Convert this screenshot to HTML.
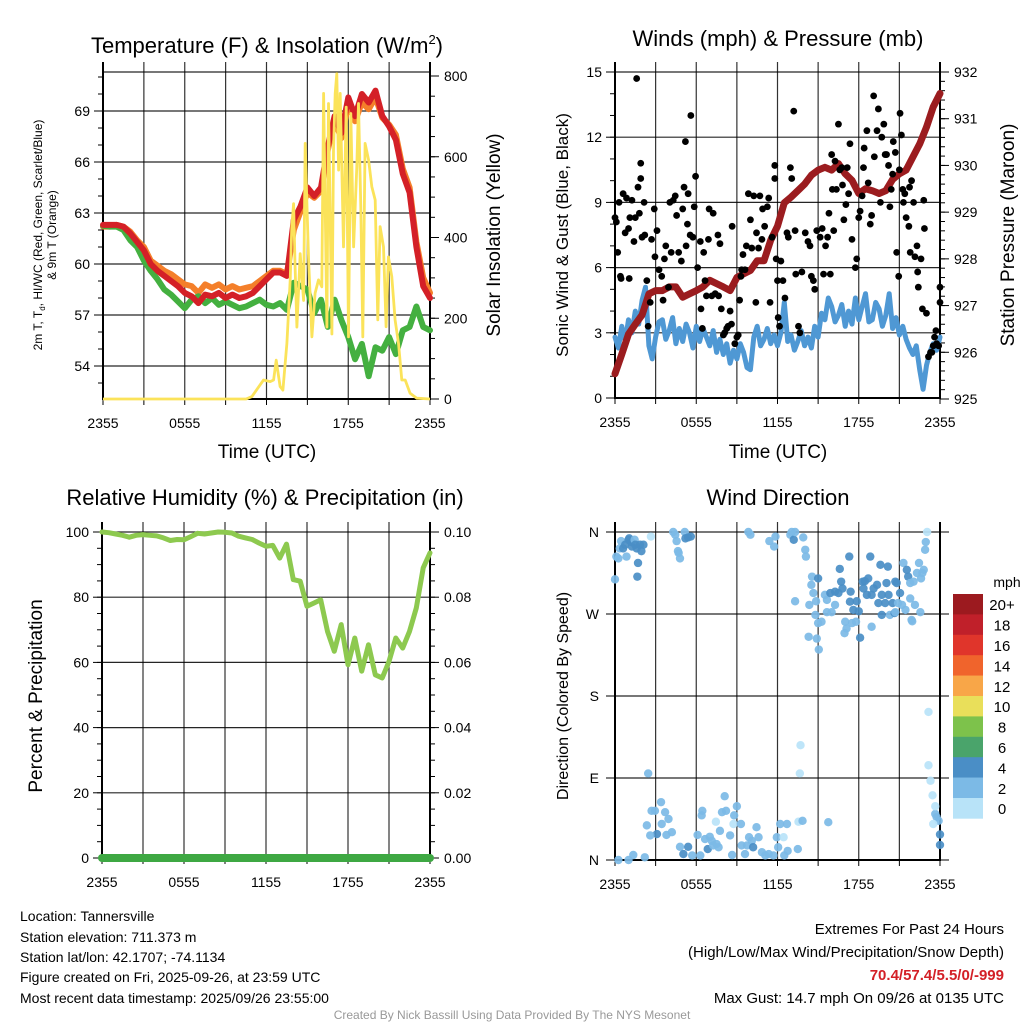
<!DOCTYPE html>
<html><head><meta charset="utf-8"><style>
html,body{margin:0;padding:0;background:#fff;}
svg{display:block;font-family:"Liberation Sans",Arial,sans-serif;}
</style></head><body>
<svg id="chart" width="1024" height="1024" viewBox="0 0 1024 1024" xmlns="http://www.w3.org/2000/svg">
<rect width="1024" height="1024" fill="#fff"/>
<g id="layer"></g>
<text x="267" y="53" font-size="22" text-anchor="middle">Temperature (F) &amp; Insolation (W/m<tspan font-size="13" dy="-9">2</tspan><tspan dy="9">)</tspan></text>
<text x="778" y="46" font-size="22" text-anchor="middle">Winds (mph) &amp; Pressure (mb)</text>
<text x="265" y="505" font-size="22" text-anchor="middle">Relative Humidity (%) &amp; Precipitation (in)</text>
<text x="778" y="505" font-size="22" text-anchor="middle">Wind Direction</text>
<text x="267" y="458" font-size="19" text-anchor="middle">Time (UTC)</text>
<text x="778" y="458" font-size="19" text-anchor="middle">Time (UTC)</text>
<text transform="translate(42,235) rotate(-90)" font-size="12" text-anchor="middle">2m T, T<tspan font-size="8" dy="3">d</tspan><tspan dy="-3">, HI/WC (Red, Green, Scarlet/Blue)</tspan></text>
<text transform="translate(56,235) rotate(-90)" font-size="12" text-anchor="middle">&amp; 9m T (Orange)</text>
<text transform="translate(500,235) rotate(-90)" font-size="19" text-anchor="middle">Solar Insolation (Yellow)</text>
<text transform="translate(568,235) rotate(-90)" font-size="17" text-anchor="middle">Sonic Wind &amp; Gust (Blue, Black)</text>
<text transform="translate(1014,235) rotate(-90)" font-size="19" text-anchor="middle">Station Pressure (Maroon)</text>
<text transform="translate(42,696) rotate(-90)" font-size="19" text-anchor="middle">Percent &amp; Precipitation</text>
<text transform="translate(568,696) rotate(-90)" font-size="16" text-anchor="middle">Direction (Colored By Speed)</text>
<g font-size="14">
<text x="20" y="921">Location: Tannersville</text>
<text x="20" y="942">Station elevation: 711.373 m</text>
<text x="20" y="962">Station lat/lon: 42.1707; -74.1134</text>
<text x="20" y="982">Figure created on Fri, 2025-09-26, at 23:59 UTC</text>
<text x="20" y="1003">Most recent data timestamp: 2025/09/26 23:55:00</text>
</g>
<g font-size="15" text-anchor="end">
<text x="1004" y="934">Extremes For Past 24 Hours</text>
<text x="1004" y="957">(High/Low/Max Wind/Precipitation/Snow Depth)</text>
<text x="1004" y="980" fill="#d32027" font-weight="bold">70.4/57.4/5.5/0/-999</text>
<text x="1004" y="1003">Max Gust: 14.7 mph On 09/26 at 0135 UTC</text>
</g>
<text x="512" y="1019" font-size="12" fill="#999" text-anchor="middle">Created By Nick Bassill Using Data Provided By The NYS Mesonet</text>
</svg>
<script>
// ---------- data ----------
const xTickLabels = ["2355","0555","1155","1755","2355"];
const tempTicks = [54,57,60,63,66,69];
const solarTicks = [0,200,400,600,800];
const windTicks = [0,3,6,9,12,15];
const presTicks = [925,926,927,928,929,930,931,932];
const rhTicks = [0,20,40,60,80,100];
const precipTicks = ["0.00","0.02","0.04","0.06","0.08","0.10"];
const dirLabels = ["N","E","S","W","N"];
const cbarLabels = ["0","2","4","6","8","10","12","14","16","18","20+"];
const cbarColors = ["#b8e3f8","#7cbae6","#4a8ec6","#4aa46b","#7dc24b","#e9df5a","#f8a648","#f0642c","#e0352b","#c0202a","#9c1a1f"];

const tempRed = [62.3,62.3,62.3,62.2,61.8,61.3,60.8,60.0,59.6,59.3,59.0,58.7,58.3,58.1,57.7,58.2,58.1,58.3,58.0,58.2,58.0,58.1,58.3,58.7,59.1,59.5,59.5,59.3,62.6,63.4,64.5,64.0,64.5,66.9,68.7,67.7,69.8,68.7,70.0,69.5,70.2,68.7,68.1,67.3,65.3,64.2,61.0,58.7,58.0];
const tempOrange = [62.2,62.2,62.3,62.2,61.9,61.4,61.0,60.2,59.9,59.6,59.4,59.1,58.8,58.7,58.3,58.8,58.6,58.8,58.5,58.7,58.5,58.6,58.7,59.0,59.3,59.6,59.6,59.4,62.0,63.1,64.2,63.9,64.3,66.7,68.4,67.4,69.4,68.4,69.5,69.1,69.8,68.6,68.2,67.6,65.6,64.5,61.3,59.2,58.3];
const tempGreen = [62.25,62.2,62.2,62.0,61.4,61.0,60.2,59.6,59.1,58.5,58.2,57.8,57.4,57.9,58.1,57.7,58.0,57.6,57.8,57.6,57.4,57.5,57.7,57.9,57.6,57.5,57.7,57.3,58.9,58.7,58.5,57.1,57.9,56.3,57.9,56.7,55.7,54.4,55.3,53.4,55.1,54.9,55.7,54.7,56.1,56.3,57.5,56.3,56.1];
const solarHours = [0,10.5,10.93,11.78,12.27,12.52,12.71,13.0,13.2,13.5,13.74,13.86,13.99,14.1,14.23,14.47,14.72,14.84,14.96,15.09,15.33,15.57,15.82,16.06,16.19,16.43,16.55,16.8,16.92,17.04,17.16,17.29,17.41,17.65,17.85,18.02,18.19,18.39,18.63,18.75,18.92,19.07,19.24,19.49,19.73,19.98,20.17,20.34,20.59,20.78,20.95,21.2,21.44,21.69,21.93,22.18,22.54,23.03,24];
const solarWm2 = [0,0,6,47,43,47,96,31,22,138,295,427,484,327,178,360,244,633,493,344,154,262,295,278,757,178,732,161,616,757,806,567,757,377,723,154,707,377,575,732,476,154,633,592,526,493,196,427,377,179,352,303,196,138,47,47,14,2,0];

const windSpeed = [2.8,2.3,3.3,2.6,3.6,3.0,4.0,3.4,4.5,5.1,2.4,1.8,2.8,3.5,3.6,2.7,3.1,3.7,2.5,3.2,2.6,3.4,3.0,2.3,3.3,2.6,3.2,2.8,2.4,3.1,2.1,2.7,2.0,2.5,1.6,2.2,1.8,2.5,2.1,1.4,1.3,2.8,3.3,2.4,2.7,3.2,2.5,2.9,2.4,3.0,4.4,2.6,2.9,2.2,2.6,3.1,2.4,2.8,2.3,3.3,2.8,3.9,3.6,4.6,4.2,3.5,3.8,4.3,3.3,4.0,3.4,4.6,3.6,4.2,4.8,3.5,3.6,4.4,4.1,3.3,3.8,4.8,3.2,3.7,2.9,3.3,2.7,2.3,2.0,2.4,1.3,0.4,1.5,2.1,2.5,2.2,2.8];
const pressure = [925.54,925.96,926.39,926.6,926.8,927.25,927.32,927.32,927.4,927.4,927.18,927.25,927.32,927.4,927.54,927.47,927.4,927.32,927.6,927.68,927.75,927.96,927.96,928.4,928.7,929.2,929.32,929.46,929.6,929.79,929.9,929.96,929.9,930.04,929.82,929.68,929.4,929.5,929.46,929.4,929.46,929.7,929.82,929.9,930.18,930.46,930.82,931.25,931.54];
const gustHours = [0,0.1,0.2,0.3,0.4,0.45,0.6,0.75,0.85,1.0,1.05,1.1,1.25,1.4,1.5,1.6,1.7,1.8,1.9,1.9,2.0,2.15,2.2,2.35,2.45,2.6,2.7,2.9,2.95,3.1,3.25,3.45,3.55,3.65,3.75,3.95,4.05,4.15,4.3,4.45,4.55,4.7,4.9,5.0,5.1,5.2,5.25,5.35,5.4,5.55,5.6,5.75,5.85,5.95,6.1,6.3,6.35,6.45,6.55,6.65,6.75,6.9,6.95,7.15,7.25,7.4,7.6,7.65,7.75,7.85,8.0,8.1,8.25,8.35,8.5,8.6,8.65,8.85,9.0,9.1,9.2,9.3,9.35,9.45,9.6,9.7,9.85,10.0,10.1,10.25,10.4,10.45,10.6,10.7,10.85,10.9,11.05,11.25,11.35,11.45,11.6,11.8,11.8,11.9,12.0,12.05,12.15,12.25,12.4,12.55,12.7,12.8,12.95,13.05,13.2,13.3,13.35,13.55,13.65,13.8,14.05,14.25,14.4,14.5,14.65,14.75,14.9,15.15,15.3,15.4,15.55,15.7,15.8,15.9,16.0,16.05,16.15,16.25,16.35,16.5,16.6,16.75,16.8,16.9,17.05,17.15,17.25,17.35,17.5,17.75,17.85,18.0,18.1,18.25,18.35,18.4,18.6,18.7,18.85,18.95,19.1,19.15,19.35,19.45,19.6,19.7,19.85,19.95,20.05,20.2,20.3,20.4,20.5,20.55,20.7,20.8,20.95,21.0,21.05,21.15,21.25,21.3,21.4,21.5,21.7,21.75,21.8,21.9,22.05,22.15,22.3,22.35,22.4,22.6,22.7,22.8,22.85,23.0,23.15,23.3,23.4,23.5,23.6,23.7,23.75,23.9,24.0,24.0];
const gustMph = [8.3,8.1,6.7,9.0,5.6,5.5,9.4,7.6,9.2,7.8,5.5,8.3,9.1,7.2,8.3,14.7,9.7,8.5,10.8,10.1,7.4,9.0,7.5,5.4,3.3,4.4,7.3,8.7,6.5,7.7,5.9,5.6,4.5,6.4,7.0,5.1,9.0,6.7,9.1,9.3,8.4,6.7,6.3,8.7,9.7,11.8,7.0,8.0,9.4,7.5,13.0,7.4,8.8,10.2,6.0,7.2,4.1,3.2,6.7,5.4,4.7,7.3,8.7,4.7,8.5,4.8,7.5,4.7,7.1,4.1,2.9,3.0,3.2,3.3,4.0,3.4,7.9,2.5,2.8,2.9,4.5,5.6,5.9,6.6,5.9,7.0,9.4,8.2,6.9,9.3,4.4,7.6,6.9,9.3,7.3,8.7,7.9,8.8,9.2,4.4,7.4,10.7,10.1,6.4,5.4,3.7,3.3,6.3,5.4,4.6,7.6,7.4,10.6,10.1,13.2,7.7,5.7,3.3,3.0,5.8,7.6,7.2,7.0,5.6,5.4,5.0,7.7,7.4,7.8,5.7,7.0,7.4,8.5,5.7,11.2,9.6,7.7,10.9,9.6,12.6,10.5,10.6,9.8,8.2,8.9,10.6,9.4,11.7,7.3,6.0,6.4,8.3,8.6,9.3,10.6,11.5,12.3,9.9,8.0,8.4,13.9,11.1,12.3,13.3,9.0,12.0,12.6,11.2,11.2,10.7,8.8,9.6,10.3,11.8,11.3,6.7,5.6,10.5,13.1,12.1,9.6,9.0,9.4,8.3,7.9,9.7,6.7,10.0,9.0,6.5,7.0,5.8,5.1,6.4,4.1,9.1,7.8,3.9,1.9,2.1,2.1,2.4,2.8,3.1,2.5,2.4,5.1,4.4];

const rhValues = [100,99.8,99.4,99,98.4,99,99.2,99,98.8,98.2,97.4,97.7,97.6,98.6,99.6,99.4,99.7,100,99.9,99.7,98.7,98.2,97.7,96.6,95.6,95.9,92,96.3,85.4,84.9,77.2,78.2,79.2,69.5,63.4,71.6,59.3,67.5,57.3,65.4,56.2,55.2,60.3,67.5,64.4,69.5,76.7,89,93.6];
const precipValues = [0,0,0,0,0,0,0,0,0,0,0,0,0,0,0,0,0,0,0,0,0,0,0,0,0];

const dirHours = [0,0.1,0.25,0.35,0.45,0.6,0.75,0.85,1.0,1.05,1.2,1.25,1.45,1.5,1.6,1.7,1.65,1.85,1.95,2.1,2.65,4.3,4.45,4.55,4.65,4.7,4.8,5.15,5.2,5.4,5.6,9.85,10.0,11.4,11.75,11.85,12.95,13.05,13.2,13.3,13.9,14.05,14.1,
14.55,15.0,14.5,14.65,14.35,13.3,14.85,15.5,15.65,15.9,16.25,16.5,16.7,16.8,17.3,16.6,17.4,17.35,17.6,17.85,18.0,18.3,18.35,18.45,18.7,18.6,18.85,18.95,19.1,19.35,19.45,19.6,19.7,19.95,20.05,20.15,20.2,20.3,20.5,20.65,20.7,20.8,20.9,21.05,21.2,21.3,21.45,21.55,21.65,21.8,21.8,21.9,22.05,22.15,22.3,22.45,22.55,22.6,22.7,22.8,22.9,22.95,23.05,
14.8,15.0,14.9,14.3,15.05,15.25,15.65,16.0,16.25,17.0,17.1,16.95,17.5,17.8,18.1,18.95,19.7,20.7,21.95,
23.15,13.7,13.65,23.15,23.3,2.45,
2.7,2.95,3.4,3.7,3.95,3.45,3.1,2.6,2.35,3.8,4.2,0.25,1.0,1.35,2.2,4.8,5.05,5.4,5.7,6.1,6.3,6.4,6.45,6.65,6.85,7.0,7.15,7.25,7.5,7.65,7.75,7.9,8.1,8.2,8.5,8.65,8.8,9.0,7.45,8.75,9.3,9.35,9.6,9.75,9.9,10.1,10.2,10.45,10.6,10.85,11.1,11.35,11.7,11.95,12.05,12.2,12.45,12.5,12.7,12.75,13.5,13.55,13.85,15.75,
23.65,23.75,23.9,23.45,23.65,23.5,24,24];
const dirDegrees = [308,333,331,342,350,342,346,333,351.5,353,349,344,351.5,346,342,326,311,346,339,346,355,360,357,350,339,337,331,360,353,354,355,360,357,350,344,355,357,360,351.5,360,354,340.5,333,
311,309,302,293,280,284,284,291,285.5,293,294.5,293,305.5,298,333,319.5,294.5,283.5,274.5,284,273,305.5,298,306,309,291,333,291,298,302,282,324,291,282,304,322,291,269,282,271,305.5,304,282,293,280,326,274.5,318.5,311,304,287,263.5,305.5,280,315,326,272,309,315,318.5,340.5,349,360,
269,260,243,245,231,261.5,272,272,280,261.5,254,249,260,261.5,244,256,269,272,262,
162.5,126,95,104,87,95,
54,54,63.5,52.5,45,39.5,28.5,27,38,27.5,30.5,0,0,5.5,3,14.5,6.5,14.5,5,27.5,5,49,54,23,12,25.5,21,16,17.5,14,32,52.5,70,54,27,5.5,49,59,42,39.5,39.5,16,6.5,16,25,21,14,36,25,8.5,5,6.5,5,25,14,39.5,25,5,39.5,10,12,42,43,41.5,
50.5,47,43,71,59,39.5,28,16.5];
const dirSpeeds = [3,3,3,3,3,5,5,3,5,5,5,5,3,5,5,5,5,5,5,5,1,3,3,3,3,3,3,3,5,5,5,3,3,3,3,3,3,3,5,3,3,3,3,
3,5,3,3,3,3,3,3,3,5,5,5,5,5,5,5,5,5,5,5,5,5,5,5,5,5,5,5,5,5,5,5,5,5,5,5,5,3,5,5,5,5,3,5,3,3,3,5,5,3,3,3,3,3,3,3,3,3,3,3,3,3,1,
3,3,3,3,3,3,3,3,3,3,3,3,3,3,5,3,5,3,3,
1,1,1,1,1,3,
3,3,3,3,3,3,5,3,3,3,3,3,3,3,3,3,5,5,3,3,3,3,3,3,5,3,3,3,3,3,3,3,3,3,3,3,3,3,1,1,3,3,3,3,3,3,5,3,3,3,3,3,3,3,3,3,1,3,3,3,3,1,3,3,
3,3,3,1,1,1,5,5];

// ---------- drawing ----------
const NS = "http://www.w3.org/2000/svg";
const layer = document.getElementById("layer");
function mk(tag, attrs, parent) {
  const e = document.createElementNS(NS, tag);
  for (const k in attrs) e.setAttribute(k, attrs[k]);
  (parent || layer).appendChild(e);
  return e;
}
function txt(s, x, y, size, anchor, parent) {
  const t = mk("text", {x: x, y: y, "font-size": size, "text-anchor": anchor}, parent);
  t.textContent = s;
  return t;
}
function lin(d0, d1, r0, r1) { return v => r0 + (v - d0) * (r1 - r0) / (d1 - d0); }

function panelFrame(name, L, R, T, B, topExt) {
  const g = mk("g", {});
  
  
  const x = lin(0, 24, L, R);
  for (let h = 3; h < 24; h += 3) {
    mk("line", {x1: x(h), x2: x(h), y1: topExt, y2: B, stroke: "#000", "stroke-width": 1.2, opacity: 0.8}, g);
  }
  mk("line", {x1: L, x2: L, y1: topExt, y2: B + 1, stroke: "#000", "stroke-width": 2}, g);
  mk("line", {x1: R, x2: R, y1: topExt, y2: B + 1, stroke: "#000", "stroke-width": 2}, g);
  mk("line", {x1: L, x2: R, y1: B, y2: B, stroke: "#000", "stroke-width": 2}, g);
  for (let h = 0; h <= 24; h += 3) {
    mk("line", {x1: x(h), x2: x(h), y1: B, y2: B + 6, stroke: "#000", "stroke-width": 1}, g);
  }
  xTickLabels.forEach((s, i) => {
    const lab = txt(s, x(i * 6), B + 29, 14, "middle", g);
    
    
  });
  return {g: g, x: x};
}
function hGrid(g, ys, L, R) {
  ys.forEach(y => mk("line", {x1: L, x2: R, y1: y, y2: y, stroke: "#000", "stroke-width": 1.2, opacity: 0.85}, g));
}
function leftTicks(g, vals, yf, L, fmt, minorStep, lo, hi) {
  if (minorStep) for (let v = lo; v <= hi + 1e-9; v += minorStep) mk("line", {x1: L - 5, x2: L, y1: yf(v), y2: yf(v), stroke: "#000", "stroke-width": 1}, g);
  vals.forEach(v => {
    mk("line", {x1: L - 9, x2: L, y1: yf(v), y2: yf(v), stroke: "#000", "stroke-width": 1}, g);
    const t = txt(fmt ? fmt(v) : String(v), L - 13, yf(v) + 5, 14, "end", g);
    
    
  });
}
function rightTicks(g, vals, yf, R, labels, minorStep, lo, hi) {
  if (minorStep) for (let v = lo; v <= hi + 1e-9; v += minorStep) mk("line", {x1: R, x2: R + 5, y1: yf(v), y2: yf(v), stroke: "#000", "stroke-width": 1}, g);
  vals.forEach((v, i) => {
    mk("line", {x1: R, x2: R + 9, y1: yf(v), y2: yf(v), stroke: "#000", "stroke-width": 1}, g);
    const t = txt(labels ? labels[i] : String(v), R + 14, yf(v) + 5, 14, "start", g);
    
    
  });
}
function pathFrom(xs, ys) {
  return xs.map((xv, i) => (i ? "L" : "M") + xv.toFixed(1) + "," + ys[i].toFixed(1)).join("");
}
function seriesPath(vals, x, y, color, w, name) {
  const n = vals.length;
  const xs = vals.map((v, i) => x(i * 24 / (n - 1)));
  const ys = vals.map(v => y(v));
  const p = mk("path", {d: pathFrom(xs, ys), fill: "none", stroke: color, "stroke-width": w, "stroke-linejoin": "round", "stroke-linecap": "round"});
  
  
  return p;
}

// Panel 1
{
  const L = 103, R = 430, T = 72, B = 399;
  const f = panelFrame("temp", L, R, T, B, 62);
  const yT = lin(69, 54, 111, 366);
  const yS = lin(0, 800, 399, 76);
  hGrid(f.g, tempTicks.map(yT).concat([72]), L, R);
  leftTicks(f.g, tempTicks, yT, L, null, 1, 53, 71);
  rightTicks(f.g, solarTicks, yS, R, null, 50, 0, 800);
  seriesPath(tempOrange, f.x, yT, "#f47f2a", 6, "temp-9m-orange-line");
  seriesPath(tempGreen, f.x, yT, "#44b040", 6, "dewpoint-green-line");
  seriesPath(tempRed, f.x, yT, "#d42027", 6, "temp-2m-red-line");
  const sp = mk("path", {d: pathFrom(solarHours.map(f.x), solarWm2.map(yS)), fill: "none", stroke: "#fbe35a", "stroke-width": 2.8, "stroke-linejoin": "round"});
  
  
}
// Panel 2
{
  const L = 615, R = 940, T = 72, B = 398;
  const f = panelFrame("wind", L, R, T, B, 62);
  const yW = lin(0, 15, 398, 72);
  const yP = lin(925, 932, 399, 72);
  hGrid(f.g, windTicks.map(yW), L, R);
  leftTicks(f.g, windTicks, yW, L, null, 1, 0, 15);
  rightTicks(f.g, presTicks, yP, R, null, 0.2, 925, 932);
  seriesPath(windSpeed, f.x, yW, "#4f98d4", 5, "sonic-wind-blue-line");
  seriesPath(pressure, f.x, yP, "#9b1c1f", 7, "pressure-maroon-line");
  for (let i = 0; i < gustHours.length; i++) {
    const c = mk("circle", {cx: f.x(Math.min(24, gustHours[i])), cy: yW(gustMph[i]), r: 3.4, fill: "#000"});
    
    
  }
}
// Panel 3
{
  const L = 102, R = 430, T = 532, B = 858;
  const f = panelFrame("rh", L, R, T, B, 522);
  const yR = lin(0, 100, 858, 532);
  const yPr = lin(0, 0.1, 858, 532);
  hGrid(f.g, rhTicks.map(yR), L, R);
  leftTicks(f.g, rhTicks, yR, L, null, 5, 0, 100);
  rightTicks(f.g, rhTicks, yR, R, precipTicks, 5, 0, 100);
  seriesPath(rhValues, f.x, yR, "#8dc94f", 5, "relative-humidity-line");
  seriesPath(precipValues, f.x, yPr, "#3ea843", 8, "precipitation-line");
}
// Panel 4
{
  const L = 615, R = 940, T = 532, B = 860;
  const f = panelFrame("direction", L, R, T, B, 522);
  const yD = lin(0, 360, 860, 532);
  const degTicks = [0, 90, 180, 270, 360];
  hGrid(f.g, degTicks.map(yD), L, R);
  degTicks.forEach((d, i) => {
    mk("line", {x1: L - 9, x2: L, y1: yD(d), y2: yD(d), stroke: "#000", "stroke-width": 1}, f.g);
    mk("line", {x1: R, x2: R + 9, y1: yD(d), y2: yD(d), stroke: "#000", "stroke-width": 1}, f.g);
    const t = txt(dirLabels[i], L - 16, yD(d) + 5, 14, "end", f.g);
    
    
  });
  const col = s => cbarColors[Math.min(10, Math.floor(s / 2))];
  for (let i = 0; i < dirHours.length; i++) {
    const c = mk("circle", {cx: f.x(Math.min(24, dirHours[i])), cy: yD(dirDegrees[i]), r: 4.2, fill: col(dirSpeeds[i]), opacity: 0.92});
    
    
  }
  const cb = mk("g", {});
  
  
  const bTop = 594, bH = 20.4;
  for (let i = 0; i < 11; i++) {
    const k = 10 - i;
    mk("rect", {x: 953, y: bTop + i * bH, width: 30, height: bH + 0.3, fill: cbarColors[k]}, cb);
    txt(cbarLabels[k], 1002, bTop + i * bH + bH / 2 + 6, 15, "middle", cb);
  }
  txt("mph", 1007, 587, 14, "middle", cb);
}
</script>
</body></html>
